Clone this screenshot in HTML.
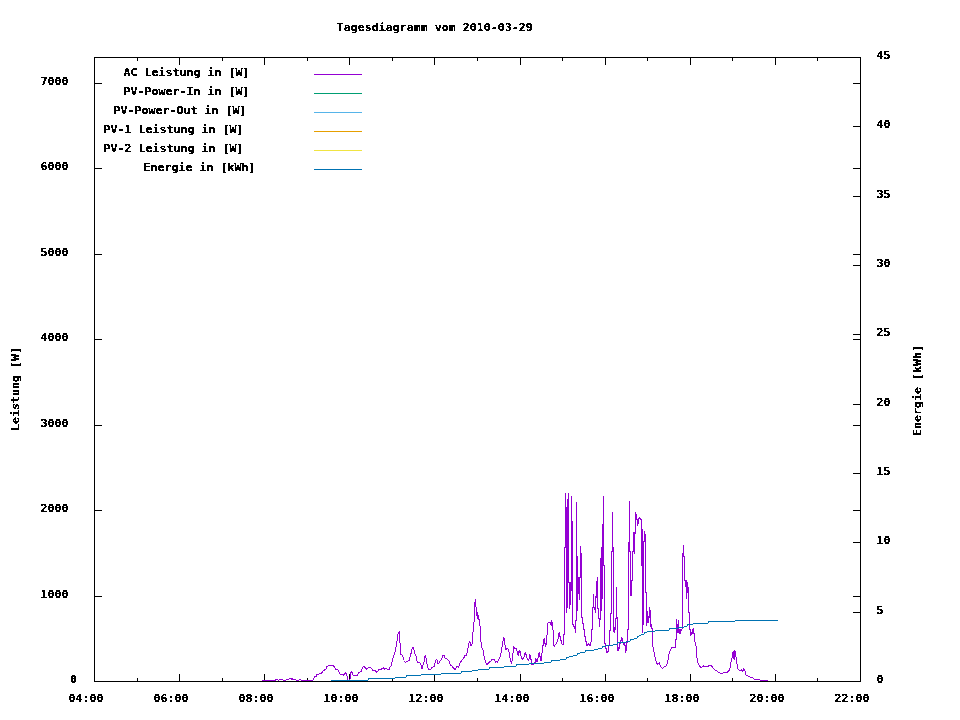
<!DOCTYPE html>
<html lang="de"><head><meta charset="utf-8"><title>Tagesdiagramm vom 2010-03-29</title>
<style>html,body{margin:0;padding:0;background:#fff}body{width:960px;height:720px;overflow:hidden}svg{display:block}text{font-family:"DejaVu Sans Mono","Liberation Mono",monospace;font-weight:bold;font-size:11.2px;fill:#000;white-space:pre}</style></head><body>
<svg width="960" height="720" viewBox="0 0 960 720">
<rect width="960" height="720" fill="#fff"/>
<path shape-rendering="crispEdges" fill="#000" d="M94 57h767v1h-767zM94 681h767v1h-767zM94 57h1v625h-1zM860 57h1v625h-1zM94 674h1v8h-1zM94 57h1v8h-1zM137 678h1v4h-1zM137 57h1v4h-1zM179 674h1v8h-1zM179 57h1v8h-1zM222 678h1v4h-1zM222 57h1v4h-1zM264 674h1v8h-1zM264 57h1v8h-1zM307 678h1v4h-1zM307 57h1v4h-1zM349 674h1v8h-1zM349 57h1v8h-1zM392 678h1v4h-1zM392 57h1v4h-1zM434 674h1v8h-1zM434 57h1v8h-1zM477 678h1v4h-1zM477 57h1v4h-1zM520 674h1v8h-1zM520 57h1v8h-1zM562 678h1v4h-1zM562 57h1v4h-1zM605 674h1v8h-1zM605 57h1v8h-1zM647 678h1v4h-1zM647 57h1v4h-1zM690 674h1v8h-1zM690 57h1v8h-1zM732 678h1v4h-1zM732 57h1v4h-1zM775 674h1v8h-1zM775 57h1v8h-1zM817 678h1v4h-1zM817 57h1v4h-1zM860 674h1v8h-1zM860 57h1v8h-1zM94 681h8v1h-8zM853 681h8v1h-8zM94 596h8v1h-8zM853 596h8v1h-8zM94 510h8v1h-8zM853 510h8v1h-8zM94 425h8v1h-8zM853 425h8v1h-8zM94 339h8v1h-8zM853 339h8v1h-8zM94 254h8v1h-8zM853 254h8v1h-8zM94 168h8v1h-8zM853 168h8v1h-8zM94 83h8v1h-8zM853 83h8v1h-8zM853 681h8v1h-8zM853 612h8v1h-8zM853 542h8v1h-8zM853 473h8v1h-8zM853 404h8v1h-8zM853 334h8v1h-8zM853 265h8v1h-8zM853 196h8v1h-8zM853 126h8v1h-8zM853 57h8v1h-8z"/>
<path shape-rendering="crispEdges" fill="#9400d3" d="M262 680h1v1h-1zM263 680h1v1h-1zM264 680h1v1h-1zM265 680h1v1h-1zM266 680h1v1h-1zM267 680h1v1h-1zM268 680h1v1h-1zM269 680h1v1h-1zM270 680h1v1h-1zM271 680h1v1h-1zM272 680h1v1h-1zM273 680h1v1h-1zM274 680h1v1h-1zM275 679h1v2h-1zM276 679h1v1h-1zM277 679h1v1h-1zM278 680h1v1h-1zM279 679h1v1h-1zM280 679h1v1h-1zM281 679h1v1h-1zM282 679h1v1h-1zM283 680h1v1h-1zM284 680h1v1h-1zM285 680h1v1h-1zM286 679h1v1h-1zM287 679h1v1h-1zM288 679h1v1h-1zM289 678h1v1h-1zM290 678h1v1h-1zM291 678h1v2h-1zM292 678h1v2h-1zM293 679h1v1h-1zM294 679h1v1h-1zM295 679h1v1h-1zM296 680h1v1h-1zM297 680h1v1h-1zM298 680h1v1h-1zM299 679h1v1h-1zM300 679h1v1h-1zM301 680h1v1h-1zM302 680h1v1h-1zM303 680h1v1h-1zM304 680h1v1h-1zM305 680h1v1h-1zM306 680h1v1h-1zM307 680h1v1h-1zM308 680h1v1h-1zM309 680h1v1h-1zM310 680h1v1h-1zM311 680h1v1h-1zM312 680h1v1h-1zM313 678h1v2h-1zM314 676h1v2h-1zM315 676h1v1h-1zM316 674h1v3h-1zM317 674h1v1h-1zM318 674h1v1h-1zM319 673h1v1h-1zM320 673h1v1h-1zM321 672h1v2h-1zM322 671h1v2h-1zM323 670h1v1h-1zM324 669h1v2h-1zM325 669h1v1h-1zM326 666h1v3h-1zM327 666h1v1h-1zM328 665h1v1h-1zM329 665h1v1h-1zM330 665h1v1h-1zM331 665h1v1h-1zM332 665h1v1h-1zM333 665h1v2h-1zM334 666h1v2h-1zM335 668h1v2h-1zM336 669h1v1h-1zM337 669h1v1h-1zM338 670h1v2h-1zM339 672h1v2h-1zM340 674h1v1h-1zM341 674h1v1h-1zM342 674h1v1h-1zM343 674h1v2h-1zM344 673h1v2h-1zM345 672h1v2h-1zM346 673h1v3h-1zM347 676h1v5h-1zM348 680h1v1h-1zM349 679h1v2h-1zM350 672h1v7h-1zM351 671h1v2h-1zM352 672h1v3h-1zM353 675h1v1h-1zM354 675h1v1h-1zM355 675h1v1h-1zM356 675h1v1h-1zM357 674h1v2h-1zM358 672h1v2h-1zM359 672h1v1h-1zM360 671h1v1h-1zM361 669h1v3h-1zM362 667h1v2h-1zM363 666h1v1h-1zM364 666h1v2h-1zM365 667h1v2h-1zM366 668h1v2h-1zM367 668h1v1h-1zM368 667h1v1h-1zM369 667h1v1h-1zM370 667h1v1h-1zM371 668h1v1h-1zM372 669h1v2h-1zM373 670h1v1h-1zM374 670h1v1h-1zM375 670h1v2h-1zM376 671h1v2h-1zM377 671h1v1h-1zM378 669h1v2h-1zM379 669h1v1h-1zM380 669h1v1h-1zM381 668h1v2h-1zM382 668h1v1h-1zM383 667h1v2h-1zM384 668h1v2h-1zM385 668h1v1h-1zM386 668h1v1h-1zM387 669h1v1h-1zM388 669h1v1h-1zM389 667h1v3h-1zM390 666h1v1h-1zM391 662h1v4h-1zM392 658h1v4h-1zM393 655h1v3h-1zM394 652h1v3h-1zM395 647h1v5h-1zM396 641h1v6h-1zM397 634h1v7h-1zM398 632h1v2h-1zM399 631h1v12h-1zM400 643h1v12h-1zM401 654h1v1h-1zM402 655h1v2h-1zM403 657h1v3h-1zM404 661h1v1h-1zM405 662h1v1h-1zM406 661h1v1h-1zM407 661h1v1h-1zM408 660h1v1h-1zM409 657h1v4h-1zM410 653h1v4h-1zM411 649h1v5h-1zM412 647h1v2h-1zM413 647h1v3h-1zM414 650h1v4h-1zM415 654h1v2h-1zM416 656h1v5h-1zM417 661h1v2h-1zM418 662h1v1h-1zM419 662h1v1h-1zM420 663h1v2h-1zM421 665h1v4h-1zM422 665h1v4h-1zM423 662h1v3h-1zM424 656h1v6h-1zM425 655h1v3h-1zM426 658h1v6h-1zM427 664h1v4h-1zM428 668h1v2h-1zM429 669h1v1h-1zM430 669h1v1h-1zM431 667h1v2h-1zM432 667h1v1h-1zM433 666h1v1h-1zM434 663h1v4h-1zM435 660h1v3h-1zM436 659h1v1h-1zM437 660h1v4h-1zM438 663h1v1h-1zM439 661h1v2h-1zM440 660h1v1h-1zM441 658h1v2h-1zM442 655h1v3h-1zM443 655h1v1h-1zM444 655h1v3h-1zM445 658h1v1h-1zM446 658h1v1h-1zM447 659h1v1h-1zM448 660h1v1h-1zM449 661h1v3h-1zM450 664h1v2h-1zM451 665h1v1h-1zM452 666h1v2h-1zM453 667h1v2h-1zM454 668h1v2h-1zM455 668h1v2h-1zM456 666h1v2h-1zM457 666h1v1h-1zM458 666h1v2h-1zM459 663h1v3h-1zM460 661h1v2h-1zM461 660h1v2h-1zM462 659h1v1h-1zM463 657h1v2h-1zM464 655h1v3h-1zM465 655h1v1h-1zM466 653h1v3h-1zM467 648h1v5h-1zM468 643h1v5h-1zM469 641h1v2h-1zM470 642h1v4h-1zM471 644h1v2h-1zM472 632h1v12h-1zM473 622h1v10h-1zM474 602h1v20h-1zM475 599h1v8h-1zM476 607h1v9h-1zM477 612h1v7h-1zM478 615h1v5h-1zM479 619h1v7h-1zM480 626h1v16h-1zM481 642h1v6h-1zM482 648h1v2h-1zM483 650h1v6h-1zM484 656h1v4h-1zM485 660h1v3h-1zM486 663h1v2h-1zM487 663h1v2h-1zM488 662h1v2h-1zM489 661h1v2h-1zM490 661h1v1h-1zM491 659h1v2h-1zM492 659h1v1h-1zM493 659h1v1h-1zM494 659h1v2h-1zM495 661h1v2h-1zM496 661h1v1h-1zM497 661h1v2h-1zM498 659h1v2h-1zM499 657h1v2h-1zM500 653h1v4h-1zM501 647h1v6h-1zM502 641h1v6h-1zM503 637h1v4h-1zM504 638h1v7h-1zM505 645h1v5h-1zM506 648h1v2h-1zM507 648h1v1h-1zM508 649h1v3h-1zM509 652h1v6h-1zM510 658h1v4h-1zM511 661h1v3h-1zM512 653h1v8h-1zM513 646h1v7h-1zM514 647h1v2h-1zM515 648h1v1h-1zM516 648h1v3h-1zM517 651h1v4h-1zM518 651h1v5h-1zM519 650h1v3h-1zM520 651h1v5h-1zM521 656h1v3h-1zM522 658h1v2h-1zM523 657h1v2h-1zM524 653h1v4h-1zM525 652h1v3h-1zM526 654h1v4h-1zM527 658h1v2h-1zM528 659h1v2h-1zM529 654h1v5h-1zM530 655h1v5h-1zM531 659h1v6h-1zM532 664h1v1h-1zM533 664h1v1h-1zM534 662h1v2h-1zM535 658h1v5h-1zM536 659h1v3h-1zM537 658h1v4h-1zM538 653h1v5h-1zM539 652h1v5h-1zM540 656h1v5h-1zM541 653h1v8h-1zM542 645h1v8h-1zM543 639h1v7h-1zM544 638h1v6h-1zM545 643h1v4h-1zM546 635h1v10h-1zM547 623h1v12h-1zM548 622h1v1h-1zM549 622h1v1h-1zM550 622h1v3h-1zM551 620h1v6h-1zM552 622h1v8h-1zM553 630h1v16h-1zM554 645h1v2h-1zM555 644h1v1h-1zM556 642h1v2h-1zM557 639h1v3h-1zM558 633h1v6h-1zM559 632h1v5h-1zM560 636h1v5h-1zM561 640h1v4h-1zM562 644h1v1h-1zM563 634h1v11h-1zM564 547h1v88h-1zM565 493h1v55h-1zM566 507h1v106h-1zM567 499h1v109h-1zM568 493h1v90h-1zM569 582h1v27h-1zM570 582h1v23h-1zM571 496h1v95h-1zM572 521h1v104h-1zM573 624h1v3h-1zM574 626h1v3h-1zM575 620h1v13h-1zM576 502h1v119h-1zM577 556h1v55h-1zM578 577h1v17h-1zM579 577h1v23h-1zM580 546h1v32h-1zM581 553h1v65h-1zM582 617h1v7h-1zM583 623h1v7h-1zM584 629h1v8h-1zM585 636h1v6h-1zM586 641h1v5h-1zM587 644h1v2h-1zM588 643h1v2h-1zM589 644h1v2h-1zM590 642h1v4h-1zM591 629h1v13h-1zM592 607h1v23h-1zM593 594h1v14h-1zM594 607h1v3h-1zM595 596h1v17h-1zM596 581h1v17h-1zM597 577h1v32h-1zM598 608h1v11h-1zM599 618h1v9h-1zM600 558h1v62h-1zM601 547h1v64h-1zM602 524h1v75h-1zM603 496h1v70h-1zM604 565h1v79h-1zM605 643h1v6h-1zM606 648h1v5h-1zM607 651h1v2h-1zM608 645h1v7h-1zM609 630h1v16h-1zM610 613h1v18h-1zM611 551h1v63h-1zM612 512h1v40h-1zM613 547h1v85h-1zM614 627h1v6h-1zM615 618h1v12h-1zM616 587h1v32h-1zM617 617h1v34h-1zM618 647h1v4h-1zM619 643h1v6h-1zM620 640h1v4h-1zM621 637h1v4h-1zM622 638h1v4h-1zM623 642h1v3h-1zM624 643h1v3h-1zM625 645h1v8h-1zM626 642h1v9h-1zM627 629h1v14h-1zM628 542h1v88h-1zM629 501h1v51h-1zM630 551h1v45h-1zM631 580h1v16h-1zM632 551h1v30h-1zM633 532h1v20h-1zM634 532h1v22h-1zM635 512h1v22h-1zM636 514h1v6h-1zM637 519h1v7h-1zM638 518h1v6h-1zM639 517h1v2h-1zM640 518h1v2h-1zM641 519h1v47h-1zM642 529h1v104h-1zM643 541h1v84h-1zM644 531h1v11h-1zM645 534h1v59h-1zM646 592h1v34h-1zM647 611h1v12h-1zM648 616h1v7h-1zM649 607h1v11h-1zM650 610h1v17h-1zM651 624h1v5h-1zM652 628h1v19h-1zM653 647h1v5h-1zM654 652h1v5h-1zM655 657h1v4h-1zM656 661h1v3h-1zM657 663h1v2h-1zM658 663h1v1h-1zM659 662h1v3h-1zM660 665h1v2h-1zM661 667h1v1h-1zM662 668h1v1h-1zM663 667h1v1h-1zM664 666h1v1h-1zM665 666h1v1h-1zM666 664h1v2h-1zM667 660h1v4h-1zM668 654h1v6h-1zM669 651h1v3h-1zM670 649h1v2h-1zM671 647h1v2h-1zM672 647h1v1h-1zM673 647h1v1h-1zM674 647h1v1h-1zM675 639h1v9h-1zM676 619h1v21h-1zM677 624h1v9h-1zM678 620h1v13h-1zM679 629h1v5h-1zM680 629h1v5h-1zM681 629h1v2h-1zM682 553h1v76h-1zM683 545h1v12h-1zM684 556h1v25h-1zM685 580h1v7h-1zM686 580h1v19h-1zM687 582h1v11h-1zM688 587h1v26h-1zM689 612h1v18h-1zM690 629h1v7h-1zM691 632h1v3h-1zM692 629h1v5h-1zM693 628h1v6h-1zM694 633h1v9h-1zM695 642h1v4h-1zM696 646h1v12h-1zM697 658h1v5h-1zM698 663h1v2h-1zM699 665h1v2h-1zM700 666h1v2h-1zM701 667h1v1h-1zM702 666h1v1h-1zM703 665h1v2h-1zM704 666h1v1h-1zM705 666h1v1h-1zM706 666h1v1h-1zM707 666h1v1h-1zM708 665h1v2h-1zM709 665h1v1h-1zM710 665h1v1h-1zM711 665h1v2h-1zM712 666h1v2h-1zM713 668h1v1h-1zM714 669h1v1h-1zM715 670h1v1h-1zM716 670h1v1h-1zM717 671h1v1h-1zM718 672h1v1h-1zM719 672h1v1h-1zM720 673h1v1h-1zM721 673h1v1h-1zM722 673h1v1h-1zM723 672h1v1h-1zM724 672h1v1h-1zM725 672h1v1h-1zM726 672h1v1h-1zM727 671h1v2h-1zM728 670h1v2h-1zM729 668h1v3h-1zM730 662h1v6h-1zM731 658h1v4h-1zM732 652h1v6h-1zM733 651h1v8h-1zM734 650h1v10h-1zM735 651h1v6h-1zM736 657h1v7h-1zM737 664h1v5h-1zM738 669h1v1h-1zM739 670h1v1h-1zM740 670h1v1h-1zM741 669h1v2h-1zM742 670h1v2h-1zM743 668h1v3h-1zM744 669h1v2h-1zM745 671h1v4h-1zM746 675h1v1h-1zM747 675h1v1h-1zM748 676h1v1h-1zM749 676h1v1h-1zM750 677h1v1h-1zM751 677h1v1h-1zM752 677h1v1h-1zM753 678h1v1h-1zM754 679h1v1h-1zM755 679h1v1h-1zM756 679h1v1h-1zM757 679h1v1h-1zM758 679h1v1h-1zM759 679h1v1h-1zM760 680h1v1h-1zM761 680h1v1h-1zM762 680h1v1h-1zM763 680h1v1h-1zM764 680h1v1h-1zM765 680h1v1h-1zM766 680h1v1h-1zM767 680h1v1h-1z"/>
<path shape-rendering="crispEdges" fill="#0072b2" d="M331 680h1v1h-1zM332 680h1v1h-1zM333 680h1v1h-1zM334 680h1v1h-1zM335 680h1v1h-1zM336 680h1v1h-1zM337 680h1v1h-1zM338 680h1v1h-1zM339 680h1v1h-1zM340 680h1v1h-1zM341 680h1v1h-1zM342 680h1v1h-1zM343 680h1v1h-1zM344 680h1v1h-1zM345 680h1v1h-1zM346 680h1v1h-1zM347 680h1v1h-1zM348 680h1v1h-1zM349 680h1v1h-1zM350 680h1v1h-1zM351 680h1v1h-1zM352 680h1v1h-1zM353 680h1v1h-1zM354 680h1v1h-1zM355 680h1v1h-1zM356 680h1v1h-1zM357 680h1v1h-1zM358 680h1v1h-1zM359 680h1v1h-1zM360 680h1v1h-1zM361 680h1v1h-1zM362 680h1v1h-1zM363 680h1v1h-1zM364 680h1v1h-1zM365 680h1v1h-1zM366 680h1v1h-1zM367 680h1v1h-1zM368 678h1v2h-1zM369 678h1v1h-1zM370 678h1v1h-1zM371 678h1v1h-1zM372 678h1v1h-1zM373 678h1v1h-1zM374 678h1v1h-1zM375 678h1v1h-1zM376 678h1v1h-1zM377 678h1v1h-1zM378 678h1v1h-1zM379 678h1v1h-1zM380 678h1v1h-1zM381 678h1v1h-1zM382 678h1v1h-1zM383 678h1v1h-1zM384 678h1v1h-1zM385 678h1v1h-1zM386 678h1v1h-1zM387 678h1v1h-1zM388 678h1v1h-1zM389 678h1v1h-1zM390 678h1v1h-1zM391 678h1v1h-1zM392 678h1v1h-1zM393 678h1v1h-1zM394 678h1v1h-1zM395 677h1v1h-1zM396 677h1v1h-1zM397 677h1v1h-1zM398 677h1v1h-1zM399 677h1v1h-1zM400 677h1v1h-1zM401 677h1v1h-1zM402 677h1v1h-1zM403 677h1v1h-1zM404 677h1v1h-1zM405 677h1v1h-1zM406 675h1v2h-1zM407 675h1v1h-1zM408 675h1v1h-1zM409 675h1v1h-1zM410 675h1v1h-1zM411 675h1v1h-1zM412 675h1v1h-1zM413 675h1v1h-1zM414 675h1v1h-1zM415 675h1v1h-1zM416 675h1v1h-1zM417 675h1v1h-1zM418 675h1v1h-1zM419 675h1v1h-1zM420 675h1v1h-1zM421 674h1v1h-1zM422 674h1v1h-1zM423 674h1v1h-1zM424 674h1v1h-1zM425 674h1v1h-1zM426 674h1v1h-1zM427 674h1v1h-1zM428 674h1v1h-1zM429 674h1v1h-1zM430 674h1v1h-1zM431 674h1v1h-1zM432 674h1v1h-1zM433 674h1v1h-1zM434 674h1v1h-1zM435 674h1v1h-1zM436 674h1v1h-1zM437 674h1v1h-1zM438 674h1v1h-1zM439 674h1v1h-1zM440 674h1v1h-1zM441 673h1v1h-1zM442 673h1v1h-1zM443 673h1v1h-1zM444 673h1v1h-1zM445 673h1v1h-1zM446 673h1v1h-1zM447 673h1v1h-1zM448 673h1v1h-1zM449 673h1v1h-1zM450 673h1v1h-1zM451 673h1v1h-1zM452 673h1v1h-1zM453 673h1v1h-1zM454 673h1v1h-1zM455 673h1v1h-1zM456 673h1v1h-1zM457 673h1v1h-1zM458 673h1v1h-1zM459 673h1v1h-1zM460 673h1v1h-1zM461 671h1v2h-1zM462 671h1v1h-1zM463 671h1v1h-1zM464 671h1v1h-1zM465 671h1v1h-1zM466 671h1v1h-1zM467 671h1v1h-1zM468 671h1v1h-1zM469 671h1v1h-1zM470 671h1v1h-1zM471 671h1v1h-1zM472 670h1v1h-1zM473 670h1v1h-1zM474 670h1v1h-1zM475 670h1v1h-1zM476 670h1v1h-1zM477 670h1v1h-1zM478 669h1v1h-1zM479 669h1v1h-1zM480 669h1v1h-1zM481 669h1v1h-1zM482 669h1v1h-1zM483 669h1v1h-1zM484 669h1v1h-1zM485 669h1v1h-1zM486 669h1v1h-1zM487 669h1v1h-1zM488 669h1v1h-1zM489 667h1v2h-1zM490 667h1v1h-1zM491 667h1v1h-1zM492 667h1v1h-1zM493 667h1v1h-1zM494 667h1v1h-1zM495 667h1v1h-1zM496 667h1v1h-1zM497 667h1v1h-1zM498 667h1v1h-1zM499 667h1v1h-1zM500 667h1v1h-1zM501 667h1v1h-1zM502 667h1v1h-1zM503 667h1v1h-1zM504 666h1v1h-1zM505 666h1v1h-1zM506 666h1v1h-1zM507 666h1v1h-1zM508 666h1v1h-1zM509 666h1v1h-1zM510 666h1v1h-1zM511 666h1v1h-1zM512 666h1v1h-1zM513 666h1v1h-1zM514 666h1v1h-1zM515 666h1v1h-1zM516 664h1v2h-1zM517 664h1v1h-1zM518 664h1v1h-1zM519 664h1v1h-1zM520 664h1v1h-1zM521 664h1v1h-1zM522 664h1v1h-1zM523 664h1v1h-1zM524 664h1v1h-1zM525 664h1v1h-1zM526 664h1v1h-1zM527 664h1v1h-1zM528 664h1v1h-1zM529 663h1v1h-1zM530 663h1v1h-1zM531 663h1v1h-1zM532 663h1v1h-1zM533 663h1v1h-1zM534 663h1v1h-1zM535 663h1v1h-1zM536 663h1v1h-1zM537 663h1v1h-1zM538 663h1v1h-1zM539 663h1v1h-1zM540 663h1v1h-1zM541 663h1v1h-1zM542 663h1v1h-1zM543 663h1v1h-1zM544 662h1v1h-1zM545 662h1v1h-1zM546 662h1v1h-1zM547 662h1v1h-1zM548 662h1v1h-1zM549 662h1v1h-1zM550 662h1v1h-1zM551 660h1v2h-1zM552 660h1v1h-1zM553 660h1v1h-1zM554 660h1v1h-1zM555 660h1v1h-1zM556 660h1v1h-1zM557 660h1v1h-1zM558 660h1v1h-1zM559 660h1v1h-1zM560 659h1v1h-1zM561 659h1v1h-1zM562 659h1v1h-1zM563 659h1v1h-1zM564 659h1v1h-1zM565 659h1v1h-1zM566 657h1v2h-1zM567 657h1v1h-1zM568 657h1v1h-1zM569 656h1v1h-1zM570 656h1v1h-1zM571 656h1v1h-1zM572 656h1v1h-1zM573 655h1v1h-1zM574 655h1v1h-1zM575 655h1v1h-1zM576 655h1v1h-1zM577 653h1v2h-1zM578 653h1v1h-1zM579 653h1v1h-1zM580 652h1v1h-1zM581 652h1v1h-1zM582 652h1v1h-1zM583 652h1v1h-1zM584 652h1v1h-1zM585 650h1v2h-1zM586 650h1v1h-1zM587 650h1v1h-1zM588 650h1v1h-1zM589 650h1v1h-1zM590 650h1v1h-1zM591 650h1v1h-1zM592 650h1v1h-1zM593 650h1v1h-1zM594 649h1v1h-1zM595 649h1v1h-1zM596 649h1v1h-1zM597 649h1v1h-1zM598 648h1v1h-1zM599 648h1v1h-1zM600 648h1v1h-1zM601 648h1v1h-1zM602 646h1v2h-1zM603 646h1v1h-1zM604 646h1v1h-1zM605 646h1v1h-1zM606 645h1v1h-1zM607 645h1v1h-1zM608 645h1v1h-1zM609 645h1v1h-1zM610 645h1v1h-1zM611 645h1v1h-1zM612 645h1v1h-1zM613 644h1v1h-1zM614 644h1v1h-1zM615 644h1v1h-1zM616 644h1v1h-1zM617 642h1v2h-1zM618 642h1v1h-1zM619 642h1v1h-1zM620 642h1v1h-1zM621 642h1v1h-1zM622 642h1v1h-1zM623 642h1v1h-1zM624 642h1v1h-1zM625 642h1v1h-1zM626 641h1v1h-1zM627 641h1v1h-1zM628 641h1v1h-1zM629 641h1v1h-1zM630 639h1v2h-1zM631 639h1v1h-1zM632 639h1v1h-1zM633 639h1v1h-1zM634 638h1v1h-1zM635 638h1v1h-1zM636 638h1v1h-1zM637 636h1v2h-1zM638 636h1v1h-1zM639 635h1v1h-1zM640 635h1v1h-1zM641 634h1v1h-1zM642 634h1v1h-1zM643 634h1v1h-1zM644 632h1v2h-1zM645 632h1v1h-1zM646 632h1v1h-1zM647 631h1v1h-1zM648 631h1v1h-1zM649 631h1v1h-1zM650 631h1v1h-1zM651 631h1v1h-1zM652 631h1v1h-1zM653 631h1v1h-1zM654 631h1v1h-1zM655 630h1v1h-1zM656 630h1v1h-1zM657 630h1v1h-1zM658 630h1v1h-1zM659 630h1v1h-1zM660 630h1v1h-1zM661 630h1v1h-1zM662 630h1v1h-1zM663 630h1v1h-1zM664 630h1v1h-1zM665 630h1v1h-1zM666 630h1v1h-1zM667 630h1v1h-1zM668 630h1v1h-1zM669 628h1v2h-1zM670 628h1v1h-1zM671 628h1v1h-1zM672 628h1v1h-1zM673 628h1v1h-1zM674 628h1v1h-1zM675 628h1v1h-1zM676 628h1v1h-1zM677 628h1v1h-1zM678 627h1v1h-1zM679 627h1v1h-1zM680 627h1v1h-1zM681 627h1v1h-1zM682 627h1v1h-1zM683 627h1v1h-1zM684 626h1v1h-1zM685 626h1v1h-1zM686 626h1v1h-1zM687 624h1v2h-1zM688 624h1v1h-1zM689 624h1v1h-1zM690 624h1v1h-1zM691 624h1v1h-1zM692 624h1v1h-1zM693 623h1v1h-1zM694 623h1v1h-1zM695 623h1v1h-1zM696 623h1v1h-1zM697 623h1v1h-1zM698 623h1v1h-1zM699 623h1v1h-1zM700 623h1v1h-1zM701 623h1v1h-1zM702 623h1v1h-1zM703 623h1v1h-1zM704 623h1v1h-1zM705 623h1v1h-1zM706 623h1v1h-1zM707 623h1v1h-1zM708 621h1v2h-1zM709 621h1v1h-1zM710 621h1v1h-1zM711 621h1v1h-1zM712 621h1v1h-1zM713 621h1v1h-1zM714 621h1v1h-1zM715 621h1v1h-1zM716 621h1v1h-1zM717 621h1v1h-1zM718 621h1v1h-1zM719 621h1v1h-1zM720 621h1v1h-1zM721 621h1v1h-1zM722 621h1v1h-1zM723 621h1v1h-1zM724 621h1v1h-1zM725 621h1v1h-1zM726 621h1v1h-1zM727 621h1v1h-1zM728 621h1v1h-1zM729 621h1v1h-1zM730 621h1v1h-1zM731 621h1v1h-1zM732 621h1v1h-1zM733 621h1v1h-1zM734 621h1v1h-1zM735 620h1v1h-1zM736 620h1v1h-1zM737 620h1v1h-1zM738 620h1v1h-1zM739 620h1v1h-1zM740 620h1v1h-1zM741 620h1v1h-1zM742 620h1v1h-1zM743 620h1v1h-1zM744 620h1v1h-1zM745 620h1v1h-1zM746 620h1v1h-1zM747 620h1v1h-1zM748 620h1v1h-1zM749 620h1v1h-1zM750 620h1v1h-1zM751 620h1v1h-1zM752 620h1v1h-1zM753 620h1v1h-1zM754 620h1v1h-1zM755 620h1v1h-1zM756 620h1v1h-1zM757 620h1v1h-1zM758 620h1v1h-1zM759 620h1v1h-1zM760 620h1v1h-1zM761 620h1v1h-1zM762 620h1v1h-1zM763 620h1v1h-1zM764 620h1v1h-1zM765 620h1v1h-1zM766 620h1v1h-1zM767 620h1v1h-1zM768 620h1v1h-1zM769 620h1v1h-1zM770 620h1v1h-1zM771 620h1v1h-1zM772 620h1v1h-1zM773 620h1v1h-1zM774 620h1v1h-1zM775 620h1v1h-1zM776 620h1v1h-1zM777 620h1v1h-1z"/>
<rect shape-rendering="crispEdges" x="314" y="74" width="48" height="1" fill="#9400d3"/>
<rect shape-rendering="crispEdges" x="314" y="93" width="48" height="1" fill="#009e73"/>
<rect shape-rendering="crispEdges" x="314" y="112" width="48" height="1" fill="#56b4e9"/>
<rect shape-rendering="crispEdges" x="314" y="131" width="48" height="1" fill="#e69f00"/>
<rect shape-rendering="crispEdges" x="314" y="150" width="48" height="1" fill="#f0e442"/>
<rect shape-rendering="crispEdges" x="314" y="169" width="48" height="1" fill="#0072b2"/>
<defs><filter id="px" x="0" y="0" width="960" height="720" filterUnits="userSpaceOnUse" color-interpolation-filters="sRGB"><feComponentTransfer><feFuncA type="discrete" tableValues="0 0 0 0 0 0 0 1 1 1 1 1 1 1 1 1 1 1 1 1"/></feComponentTransfer></filter></defs>
<g filter="url(#px)">
<text x="336.75" y="31" textLength="196" lengthAdjust="spacingAndGlyphs">Tagesdiagramm vom 2010-03-29</text>
<text x="123.5" y="76" textLength="126" lengthAdjust="spacingAndGlyphs">AC Leistung in [W]</text>
<text x="123.5" y="95" textLength="126" lengthAdjust="spacingAndGlyphs">PV-Power-In in [W]</text>
<text x="113.5" y="114" textLength="133" lengthAdjust="spacingAndGlyphs">PV-Power-Out in [W]</text>
<text x="103.5" y="133" textLength="140" lengthAdjust="spacingAndGlyphs">PV-1 Leistung in [W]</text>
<text x="103.5" y="152" textLength="140" lengthAdjust="spacingAndGlyphs">PV-2 Leistung in [W]</text>
<text x="143.5" y="171" textLength="112" lengthAdjust="spacingAndGlyphs">Energie in [kWh]</text>
<text x="70.0" y="683" textLength="7" lengthAdjust="spacingAndGlyphs">0</text>
<text x="40.5" y="598" textLength="28" lengthAdjust="spacingAndGlyphs">1000</text>
<text x="40.5" y="512" textLength="28" lengthAdjust="spacingAndGlyphs">2000</text>
<text x="40.5" y="427" textLength="28" lengthAdjust="spacingAndGlyphs">3000</text>
<text x="40.5" y="341" textLength="28" lengthAdjust="spacingAndGlyphs">4000</text>
<text x="40.5" y="256" textLength="28" lengthAdjust="spacingAndGlyphs">5000</text>
<text x="40.5" y="170" textLength="28" lengthAdjust="spacingAndGlyphs">6000</text>
<text x="40.5" y="85" textLength="28" lengthAdjust="spacingAndGlyphs">7000</text>
<text x="876.5" y="683" textLength="7" lengthAdjust="spacingAndGlyphs">0</text>
<text x="876.5" y="614" textLength="7" lengthAdjust="spacingAndGlyphs">5</text>
<text x="876.5" y="544" textLength="14" lengthAdjust="spacingAndGlyphs">10</text>
<text x="876.5" y="475" textLength="14" lengthAdjust="spacingAndGlyphs">15</text>
<text x="876.5" y="406" textLength="14" lengthAdjust="spacingAndGlyphs">20</text>
<text x="876.5" y="336" textLength="14" lengthAdjust="spacingAndGlyphs">25</text>
<text x="876.5" y="267" textLength="14" lengthAdjust="spacingAndGlyphs">30</text>
<text x="876.5" y="198" textLength="14" lengthAdjust="spacingAndGlyphs">35</text>
<text x="876.5" y="128" textLength="14" lengthAdjust="spacingAndGlyphs">40</text>
<text x="876.5" y="59" textLength="14" lengthAdjust="spacingAndGlyphs">45</text>
<text x="68.5" y="702" textLength="35" lengthAdjust="spacingAndGlyphs">04:00</text>
<text x="153.5" y="702" textLength="35" lengthAdjust="spacingAndGlyphs">06:00</text>
<text x="238.5" y="702" textLength="35" lengthAdjust="spacingAndGlyphs">08:00</text>
<text x="323.5" y="702" textLength="35" lengthAdjust="spacingAndGlyphs">10:00</text>
<text x="408.5" y="702" textLength="35" lengthAdjust="spacingAndGlyphs">12:00</text>
<text x="494.5" y="702" textLength="35" lengthAdjust="spacingAndGlyphs">14:00</text>
<text x="579.5" y="702" textLength="35" lengthAdjust="spacingAndGlyphs">16:00</text>
<text x="664.5" y="702" textLength="35" lengthAdjust="spacingAndGlyphs">18:00</text>
<text x="749.5" y="702" textLength="35" lengthAdjust="spacingAndGlyphs">20:00</text>
<text x="834.5" y="702" textLength="35" lengthAdjust="spacingAndGlyphs">22:00</text>
<text x="19" y="431" textLength="84" lengthAdjust="spacingAndGlyphs" transform="rotate(-90 19 431)">Leistung [W]</text>
<text x="921" y="436" textLength="91" lengthAdjust="spacingAndGlyphs" transform="rotate(-90 921 436)">Energie [kWh]</text>
</g>
</svg></body></html>
